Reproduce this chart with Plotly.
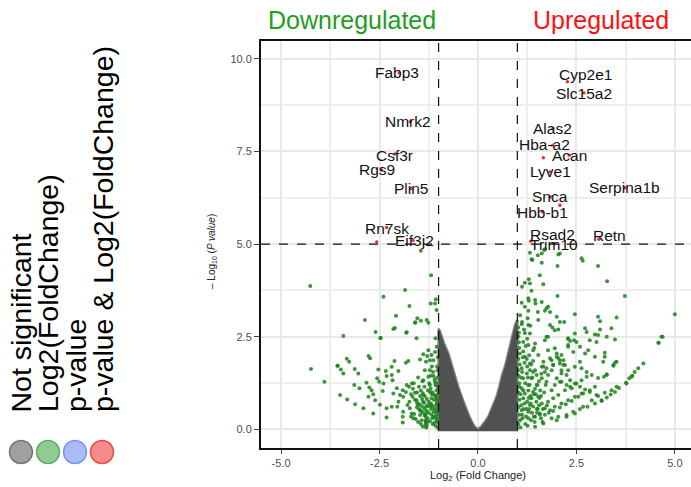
import plotly.graph_objects as go

# ---------------- data ----------------
# significant (p-value & log2FC) genes: label text and label position
gene_names = ["Fabp3", "Nmrk2", "Csf3r", "Rgs9", "Plin5", "Rn7sk", "Eif3j2",
              "Cyp2e1", "Slc15a2", "Alas2", "Hba-a2", "Acan", "Lyve1", "Serpina1b",
              "Snca", "Hbb-b1", "Rsad2", "Trim10", "Retn"]
label_x = [-2.06, -1.77, -2.11, -2.57, -1.70, -2.32, -1.62,
           2.74, 2.69, 1.90, 1.70, 2.32, 1.83, 3.73,
           1.84, 1.64, 1.90, 1.93, 3.35]
label_y = [9.64, 8.32, 7.40, 7.02, 6.49, 5.43, 5.09,
           9.58, 9.07, 8.12, 7.70, 7.40, 6.95, 6.53,
           6.28, 5.85, 5.27, 5.00, 5.24]

# red points (p-value & Log2FC significant)
red_x = [-2.00, -1.72, -2.11, -2.45, -1.70, -2.32, -1.65, -2.57,
         2.27, 2.69, 1.90, 1.90, 1.66, 2.32, 1.83, 3.73, 2.08, 1.84, 1.64, 1.34, 3.07, 1.93]
red_y = [9.62, 8.30, 7.43, 7.00, 6.50, 5.45, 5.10, 5.06,
         9.38, 9.08, 8.12, 7.67, 7.33, 7.40, 6.95, 6.52, 6.05, 6.28, 5.87, 5.08, 5.13, 5.02]

# green points (Log2FC significant only)
green_x = [
    -1.45, -4.26, -4.24, -3.90, -3.42, -3.56, -3.33, -3.50, -3.32, -3.12, -2.91, -2.87, -2.60, -2.40, -2.47,
    -1.85, -1.74, -2.08, -2.11, -2.15, -1.81, -1.56, -1.60, -1.45, -1.30, -1.26, -1.20, -1.19, -1.07, -1.05,
    -1.54, -1.59, -1.09, -1.08, -2.48, -1.82,
    -3.57, -3.48, -3.27, -3.42, -3.13, -3.04, -2.78, -2.74, -3.14, -3.01, -2.83, -2.76, -2.70, -2.66,
    -2.53, -2.56, -2.51, -2.34, -2.32, -2.40, -2.42, -2.19, -2.12, -2.02, -2.19, -2.17, -2.06, -2.15,
    -1.98, -2.02, -1.91, -1.81, -1.77, -1.83, -1.68, -1.47, -1.39, -1.32, -1.29, -1.22, -1.26, -1.18,
    -1.13, -1.09, -1.05, -1.35, -1.22, -1.52, -1.39, -1.26, -1.13, -1.09, -1.22, -1.03,
    -2.66, -2.78, -2.61, -2.49, -2.32, -2.32, -2.19, -1.91, -1.91, -1.90, -2.05, -1.79, -1.73, -1.68,
    -1.64, -1.74, -1.66, -1.60, -1.56, -1.52, -1.47, -1.47, -1.43, -1.39, -1.39, -1.32, -1.32, -1.32,
    -1.32, -1.22, -1.18, -1.18, -1.13, -1.09, -1.05, -1.05, -1.03, -1.05, -1.90, -1.83,
    -1.50, -1.45, -1.40, -1.35, -1.30, -1.25, -1.20, -1.15, -1.10, -1.05,
    -1.55, -1.50, -1.45, -1.40, -1.35, -1.28, -1.22, -1.15, -1.08,
    -1.60, -1.55, -1.48, -1.42, -1.36, -1.30, -1.25, -1.18, -1.12, -1.06,
    -1.33, -1.33, -1.33, -1.31, -1.30, -1.29,
    -1.20, -1.15, -1.10, -1.05, -1.02, -1.08, -1.03, -1.02, -1.04, -1.02, -1.06,
    -1.70, -1.65, -1.75, -1.62, -1.70, -1.58, -1.52, -1.45, -1.40,
    -1.02, -1.04, -1.03, -1.06, -1.02, -1.05, -1.08, -1.12, -1.10, -1.14, -1.17, -1.20, -1.24, -1.27,
    -1.16, -1.11, -1.07, -1.19, -1.23, -1.37, -1.42, -1.47, -1.55, -1.63, -1.36, -1.41, -1.28, -1.17,
    # right side
    1.32, 1.52, 1.68, 2.04, 1.38, 1.62, 2.63, 2.66, 2.02, 1.57, 1.29, 1.19, 1.32, 1.66, 1.12, 1.36,
    2.02, 1.28, 1.29, 1.45, 1.62, 1.46, 1.11, 1.19, 1.78, 1.74, 1.70, 1.28, 1.52, 1.83, 2.46, 1.07,
    2.00, 1.53, 2.08, 2.19, 3.05, 3.10, 1.11, 1.28, 1.83, 1.89, 1.95, 2.04, 2.72, 2.76, 2.97, 3.10,
    1.32, 1.04, 1.78, 2.29, 1.36, 1.62, 1.70, 2.08,
    3.05, 3.28, 3.73, 5.00, 3.52, 3.39, 3.48, 4.66, 4.58, 4.20, 4.07, 3.44, 3.52, 3.27, 3.77, 3.90,
    3.98, 3.52, 3.39, 3.22, 3.05, 2.89, 2.67, 2.46, 2.25, 2.00, 2.97, 2.84, 2.67, 2.55, 2.38, 2.23,
    2.08, 1.91, 3.22, 2.97, 2.80, 2.72, 2.59, 2.50, 2.34, 2.29, 2.46, 3.05, 2.84, 2.59, 2.46, 2.29,
    2.12, 2.17, 2.08, 2.00, 1.91, 1.83, 1.74, 2.00, 2.12, 2.25, 2.38, 2.50, 2.63, 2.76,
    3.27, 4.69, 4.59, 3.92, 3.84, 3.76, 3.22, 3.48, 3.44, 3.27, 3.20, 3.58, 3.48, 3.37, 3.27, 3.14,
    2.29, 2.44, 3.01, 1.74, 1.70, 2.29, 2.42, 3.18, 2.63, 2.76, 2.89, 3.05, 2.12, 2.17, 2.21, 1.95,
    2.00, 2.04, 2.08, 2.12, 2.25, 2.34, 2.46, 2.59, 2.72, 2.84, 3.01, 3.14, 2.97, 2.78, 2.59, 2.42,
    2.25, 2.04, 1.87, 1.66, 1.45, 1.28, 1.83, 1.95, 2.12, 2.29, 2.46, 2.63, 1.78, 1.91, 2.04, 2.21,
    2.34, 1.87, 1.95, 2.08, 1.74, 1.78, 1.87, 1.91, 1.62, 1.66, 1.53, 1.40, 1.28, 1.15, 1.45, 1.78,
    1.62, 1.49, 1.40, 1.36, 1.32, 1.28, 1.53, 1.62, 1.70, 1.57, 1.45, 1.11, 1.15, 1.11, 1.15, 1.11,
    1.07, 1.19, 1.32, 1.24, 1.36, 1.28, 1.19, 1.40, 1.49, 1.70, 1.87,
    1.03, 1.05, 1.03, 1.06, 1.03, 1.05, 1.03, 1.06, 1.03, 1.05, 1.03, 1.08,
    1.15, 1.18, 1.12, 1.20, 1.15, 1.18, 1.12, 1.20,
    1.25, 1.30, 1.25, 1.32, 1.28, 1.33, 1.25, 1.30, 1.22, 1.35, 1.26,
    1.40, 1.45, 1.38, 1.45, 1.42, 1.48, 1.40, 1.52, 1.44, 1.50,
    1.55, 1.58, 1.60, 1.55, 1.65, 1.60, 1.70, 1.68, 1.72, 1.75, 1.80,
    1.02, 1.04, 1.06, 1.02, 1.05, 1.08, 1.10, 1.13, 1.16, 1.09, 1.14, 1.21, 1.24, 1.27, 1.31, 1.34,
    1.37, 1.42, 1.47, 1.51, 1.56, 1.61, 1.66, 1.19, 1.23, 1.29, 1.35, 1.43, 1.49, 1.57, 1.64, 1.12,
    1.17, 1.26, 1.33,
]
green_y = [
    4.82, 3.87, 1.63, 1.29, 2.52, 1.72, 1.91, 0.93, 0.81, 0.68, 0.57, 2.95, 2.63, 3.58, 2.47,
    3.76, 3.33, 3.07, 2.74, 2.71, 2.62, 2.46, 2.88, 2.93, 2.95, 2.88, 3.40, 4.16, 3.51, 3.22,
    3.00, 2.89, 3.40, 2.46, 2.47, 2.61,
    1.72, 1.62, 1.83, 1.51, 1.63, 1.51, 1.98, 1.92, 1.20, 1.11, 1.26, 1.13, 1.06, 0.95,
    1.62, 1.38, 1.29, 1.58, 1.44, 1.24, 1.04, 1.69, 1.85, 1.58, 1.47, 1.33, 1.11, 0.97,
    0.93, 0.75, 1.06, 1.20, 1.85, 1.80, 1.24, 1.89, 2.03, 1.83, 1.98, 1.87, 2.14, 2.01,
    1.87, 2.09, 2.23, 1.60, 1.60, 1.40, 1.33, 1.42, 1.44, 1.28, 1.20, 1.60,
    0.43, 0.88, 0.79, 0.67, 0.32, 0.57, 0.61, 0.34, 0.19, 0.48, 0.61, 0.66, 0.57, 0.43,
    0.30, 0.75, 0.88, 0.99, 0.79, 0.66, 0.52, 0.39, 0.25, 0.93, 0.75, 0.61, 0.43, 0.21,
    0.07, 1.01, 0.84, 0.66, 0.48, 0.34, 1.06, 0.79, 0.57, 0.25, 0.88, 1.01,
    1.15, 1.05, 0.98, 0.90, 0.82, 0.75, 0.70, 0.62, 0.55, 0.50,
    0.60, 0.55, 0.50, 0.45, 0.38, 0.30, 0.22, 0.15, 0.10,
    0.80, 0.72, 0.68, 0.62, 0.55, 0.50, 0.45, 0.40, 0.35, 0.30,
    0.15, 0.25, 0.35, 0.05, 0.12, 0.20,
    1.10, 1.00, 0.92, 0.85, 0.78, 1.20, 1.15, 0.40, 0.20, 0.05, 0.65,
    0.95, 1.10, 1.15, 0.42, 0.35, 0.28, 0.20, 0.15, 0.08,
    1.95, 1.70, 1.40, 1.25, 0.95, 0.70, 0.90, 0.80, 1.35, 1.55, 1.70, 1.45, 1.25, 1.05,
    0.30, 0.18, 0.45, 0.55, 0.62, 0.72, 0.82, 0.90, 1.00, 1.25, 1.15, 1.30, 0.65, 0.95,
    # right side
    4.77, 4.70, 4.84, 4.72, 4.57, 4.50, 4.62, 4.55, 4.41, 4.16, 4.05, 3.96, 3.94, 3.92, 3.85, 3.74,
    3.60, 3.54, 3.47, 3.49, 3.44, 3.40, 3.42, 3.31, 3.31, 3.27, 3.20, 3.20, 3.17, 3.17, 3.11, 3.08,
    3.04, 2.95, 2.90, 2.90, 3.04, 2.92, 2.84, 2.82, 2.82, 2.75, 2.68, 2.70, 2.73, 2.63, 2.56, 2.70,
    2.59, 2.61, 2.50, 2.46, 4.59, 4.75, 4.86, 4.75,
    4.41, 4.00, 3.60, 3.11, 3.02, 2.73, 2.43, 2.50, 2.34, 1.78, 1.65, 1.74, 1.83, 1.47, 1.24, 1.42,
    1.55, 1.15, 1.06, 0.99, 0.90, 0.79, 0.61, 0.43, 0.34, 0.25, 1.15, 1.06, 0.97, 0.88, 0.77, 0.68,
    0.59, 0.50, 2.07, 1.96, 2.14, 2.05, 2.23, 2.36, 2.39, 2.28, 2.59, 2.55, 2.41, 1.83, 1.69, 1.60,
    1.51, 1.74, 1.87, 1.96, 1.74, 1.92, 1.65, 1.38, 1.29, 1.20, 1.11, 1.24, 1.33, 1.42,
    2.50, 2.50, 2.34, 1.45, 1.38, 1.26, 1.96, 1.80, 1.72, 1.49, 1.42, 1.12, 1.01, 0.94, 0.86, 0.77,
    2.44, 2.41, 2.36, 2.50, 2.41, 2.23, 2.09, 1.83, 1.65, 1.55, 1.47, 1.39, 2.01, 1.87, 1.74, 2.19,
    2.05, 1.92, 1.78, 1.60, 1.47, 1.33, 1.24, 1.15, 1.08, 1.01, 0.93, 0.79, 0.70, 0.61, 0.55, 0.48,
    0.39, 0.34, 0.30, 0.16, 0.07, 0.30, 0.52, 0.61, 0.70, 0.79, 0.88, 0.97, 0.75, 0.84, 0.93, 1.06,
    1.15, 1.06, 1.20, 1.29, 1.29, 1.47, 1.60, 1.74, 1.69, 1.83, 2.01, 2.14, 2.28, 2.36, 2.32, 2.14,
    1.38, 1.20, 1.01, 0.84, 0.66, 0.48, 0.88, 0.70, 0.57, 0.43, 0.34, 1.65, 1.38, 1.11, 0.84, 0.52,
    0.25, 1.96, 1.78, 1.51, 1.38, 1.20, 0.97, 1.55, 1.47, 1.55, 1.87,
    2.50, 2.20, 1.90, 1.75, 1.45, 1.25, 1.00, 0.80, 0.60, 0.40, 0.15, 0.05,
    2.10, 1.80, 1.55, 1.25, 1.05, 0.70, 0.40, 0.15,
    2.45, 2.00, 1.70, 1.60, 1.05, 0.90, 0.75, 0.55, 0.35, 0.25, 0.10,
    1.85, 1.60, 1.40, 1.10, 0.95, 0.75, 0.62, 0.55, 0.20, 0.45,
    1.30, 1.05, 0.90, 0.65, 0.55, 0.30, 0.40, 1.00, 1.20, 0.65, 0.45,
    2.75, 2.35, 2.05, 1.60, 1.15, 0.95, 0.65, 0.30, 0.55, 1.40, 1.95, 2.25, 1.90, 1.40, 1.20, 0.70,
    0.45, 0.35, 0.95, 1.20, 0.85, 1.50, 1.70, 2.60, 0.55, 0.85, 1.75, 2.20, 0.55, 0.40, 0.20, 2.90,
    2.70, 3.00, 2.80,
]

# envelope of the dense non-significant (grey) cloud
grey_x = [-1.00, -1.00, -0.97, -0.92, -0.86, -0.75, -0.66, -0.58, -0.50, -0.41, -0.33, -0.25, -0.17, -0.09, 0.00,
          0.09, 0.17, 0.26, 0.36, 0.47, 0.54, 0.60, 0.69, 0.77, 0.84, 0.90, 0.94, 1.00, 1.00]
grey_y = [-0.05, 2.72, 2.66, 2.50, 2.32, 2.05, 1.72, 1.42, 1.15, 0.88, 0.64, 0.43, 0.24, 0.09, 0.00,
          0.09, 0.20, 0.34, 0.60, 0.88, 1.15, 1.42, 1.72, 2.05, 2.35, 2.60, 2.82, 2.95, -0.05]

fc_cut = 1.0
p_cut = 5.0
x_ticks = [-5.0, -2.5, 0.0, 2.5, 5.0]
y_ticks = [0.0, 2.5, 5.0, 7.5, 10.0]
legend_labels = ["Not significant", "Log2(FoldChange)", "p-value", "p-value & Log2(FoldChange)"]
legend_fill = ["rgba(120,120,120,0.7)", "rgba(110,185,110,0.75)", "rgba(140,165,240,0.75)", "rgba(240,110,110,0.8)"]
legend_line = ["rgba(95,95,95,0.8)", "rgba(80,165,80,0.85)", "rgba(105,135,230,0.85)", "rgba(235,60,60,0.9)"]

# ---------------- layout geometry (pixels) ----------------
W, H = 691, 487
L, R, T, B = 261, 0, 41, 39
pw, ph = W - L - R, H - T - B


def px(xp):
    return (xp - L) / pw


def py(yp):
    return (H - B - yp) / ph


fig = go.Figure()

fig.add_trace(go.Scatter(x=grey_x, y=grey_y, mode="lines", fill="toself",
                         fillcolor="rgba(72,72,72,0.95)",
                         line=dict(color="rgba(85,85,85,0.7)", width=2.5),
                         hoverinfo="skip", showlegend=False))
fig.add_trace(go.Scatter(x=green_x, y=green_y, mode="markers",
                         marker=dict(size=4, color="rgba(28,130,28,0.85)", line=dict(width=0)),
                         showlegend=False))
fig.add_trace(go.Scatter(x=red_x, y=red_y, mode="markers",
                         marker=dict(size=3.4, color="rgba(240,20,20,0.9)", line=dict(width=0)),
                         showlegend=False))

FONT = "Liberation Sans, Arial, sans-serif"
annotations = []
for name, lx, ly in zip(gene_names, label_x, label_y):
    annotations.append(dict(x=lx, y=ly, xref="x", yref="y", text=name, showarrow=False,
                            font=dict(family=FONT, size=15.5, color="#111111"),
                            xanchor="center", yanchor="middle"))

# titles
annotations.append(dict(x=px(352), y=py(20), xref="paper", yref="paper", text="Downregulated",
                        showarrow=False, font=dict(family=FONT, size=25, color="#1e9e1e"),
                        xanchor="center", yanchor="middle"))
annotations.append(dict(x=px(601), y=py(20), xref="paper", yref="paper", text="Upregulated",
                        showarrow=False, font=dict(family=FONT, size=25, color="#ff1010"),
                        xanchor="center", yanchor="middle"))
# axis titles
annotations.append(dict(x=px(478), y=py(476), xref="paper", yref="paper",
                        text="Log<sub>2</sub> (Fold Change)", showarrow=False,
                        font=dict(family=FONT, size=11, color="#222222"),
                        xanchor="center", yanchor="middle"))
annotations.append(dict(x=px(212), y=py(252), xref="paper", yref="paper",
                        text="– Log<sub>10</sub> (<i>P value</i>)", showarrow=False, textangle=-90,
                        font=dict(family=FONT, size=10, color="#222222"),
                        xanchor="center", yanchor="middle"))

# legend (rotated text + circles)
leg_text_x = [20, 48, 75.5, 103]
leg_circ_x = [21, 48, 75, 102]
shapes = []
for lab, tx, cx, fc, lc in zip(legend_labels, leg_text_x, leg_circ_x, legend_fill, legend_line):
    annotations.append(dict(x=px(tx), y=py(414), xref="paper", yref="paper", text=lab,
                            showarrow=False, textangle=-90,
                            font=dict(family=FONT, size=28.5, color="#000000"),
                            xanchor="center", yanchor="bottom"))
    shapes.append(dict(type="circle", xref="paper", yref="paper",
                       x0=px(cx - 11.5), x1=px(cx + 11.5), y0=py(452 + 11.5), y1=py(452 - 11.5),
                       fillcolor=fc, line=dict(color=lc, width=1.5), layer="above"))

# threshold lines
for xv in (-fc_cut, fc_cut):
    shapes.append(dict(type="line", xref="x", yref="paper", x0=xv, x1=xv, y0=0, y1=1,
                       line=dict(color="#111111", width=1.2, dash="dash"), layer="above"))
shapes.append(dict(type="line", xref="paper", yref="y", x0=0, x1=1, y0=p_cut, y1=p_cut,
                   line=dict(color="#111111", width=1.2, dash="dash"), layer="above"))

fig.update_layout(
    width=W, height=H,
    margin=dict(l=L, r=R, t=T, b=B, pad=0),
    paper_bgcolor="white", plot_bgcolor="white",
    annotations=annotations, shapes=shapes,
    showlegend=False,
    xaxis=dict(range=[-5.51, 5.41], tickvals=x_ticks, ticktext=["%.1f" % v for v in x_ticks],
               showgrid=True, gridcolor="#e8e8e8", gridwidth=2,
               minor=dict(tickvals=[-3.75, -1.25, 1.25, 3.75], showgrid=True, gridcolor="#eeeeee", gridwidth=1.5),
               zeroline=False, showline=True, linecolor="#111111", linewidth=2, mirror=True,
               ticks="outside", ticklen=4, tickcolor="#444444",
               tickfont=dict(family=FONT, size=11, color="#4d4d4d")),
    yaxis=dict(range=[-0.5, 10.48], tickvals=y_ticks, ticktext=["%.1f" % v for v in y_ticks],
               showgrid=True, gridcolor="#e8e8e8", gridwidth=2,
               minor=dict(tickvals=[1.25, 3.75, 6.25, 8.75], showgrid=True, gridcolor="#eeeeee", gridwidth=1.5),
               zeroline=False, showline=True, linecolor="#111111", linewidth=2, mirror=False,
               ticks="outside", ticklen=5, tickcolor="#444444",
               tickfont=dict(family=FONT, size=11, color="#4d4d4d")),
)

fig.write_html("out.html")
